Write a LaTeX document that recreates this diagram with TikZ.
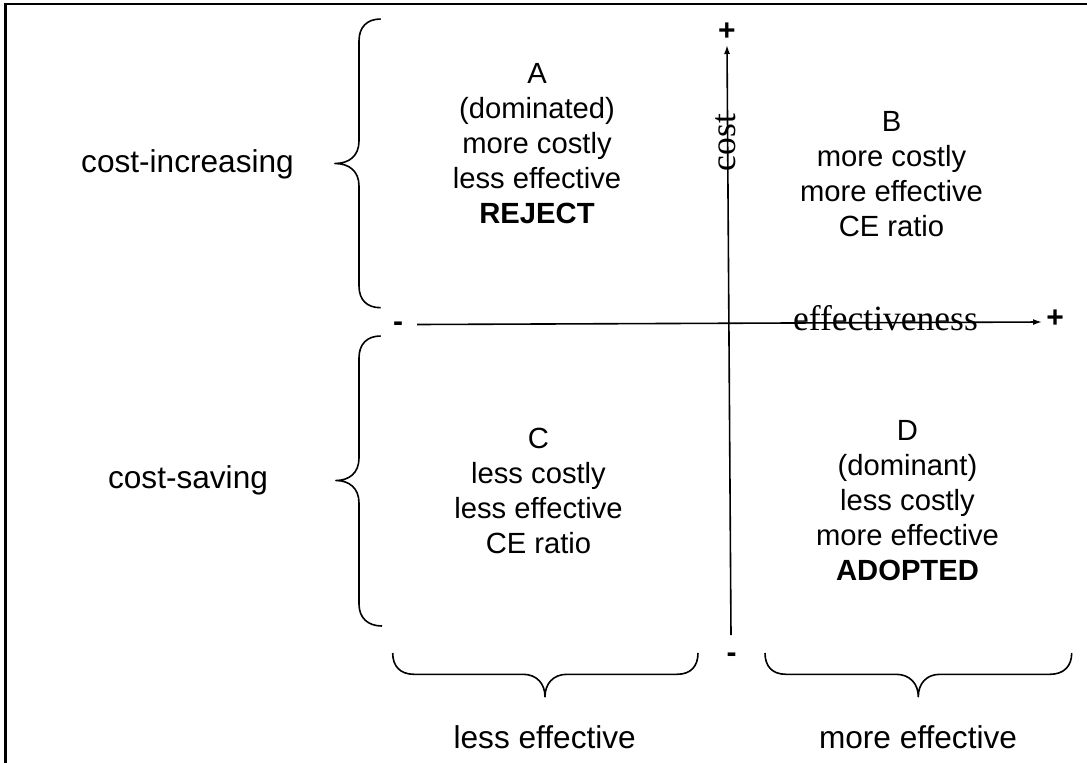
\documentclass[tikz,border=0pt]{standalone}
\usepackage{fontspec}
\setsansfont{Liberation Sans}
\newfontfamily\axisface{Liberation Serif}
\usetikzlibrary{arrows.meta}

\tikzset{
  frameline/.style={line width=2.7pt},
  axisline/.style={line width=1.6pt, -{Latex[length=9pt,width=6pt]}},
  braceline/.style={line width=1.6pt, line join=round},
  % multi-line quadrant text: the base anchor sits on the last line
  quadtext/.style={font=\sffamily\fontsize{29.2}{35}\selectfont, align=center, inner sep=0pt, anchor=base},
  sidelabel/.style={font=\sffamily\fontsize{31.6}{38}\selectfont, inner sep=0pt, anchor=base},
  axislabel/.style={font=\axisface\fontsize{35.5}{42}\selectfont, inner sep=0pt, anchor=base},
  signmark/.style={font=\sffamily\bfseries\fontsize{30}{36}\selectfont, inner sep=0pt, anchor=center}
}

\begin{document}
\begin{tikzpicture}[x=1pt, y=-1pt]
\useasboundingbox (0,0) rectangle (1087,763);

% outer frame (top and left edges)
\draw[frameline] (5.3,763) -- (5.3,4) -- (1087,4);

% axes
\coordinate (costlow) at (731,635);
\coordinate (costhigh) at (727,45);
\coordinate (efflow) at (417,324.5);
\coordinate (effhigh) at (1042,322);
\draw[axisline] (costlow) -- (costhigh);
\draw[axisline] (efflow) -- (effhigh);

% axis labels and signs
\node[axislabel, rotate=90] (costlab) at (735,142.5) {cost};
\node[axislabel] (efflab) at (885.5,330) {effectiveness};
\node[signmark] (costplus) at (727,31.7) {+};
\node[signmark] (costminus) at (731.7,657.5) {-};
\node[signmark] (effplus) at (1055,319) {+};
\node[signmark] (effminus) at (398,327) {-};

% left braces
\draw[braceline] (380.7,19) .. controls (367,19) and (359,27) .. (359,41)
  -- (359,141) .. controls (359,156) and (349,163.5) .. (335,163.5)
  .. controls (349,163.5) and (359,171) .. (359,186)
  -- (359,286) .. controls (359,300) and (367,307.7) .. (380.7,307.7);
\draw[braceline] (380.7,336) .. controls (367,336) and (359,344) .. (359,358)
  -- (359,458) .. controls (359,473) and (349,480.5) .. (336,480.5)
  .. controls (349,480.5) and (359,488) .. (359,503)
  -- (359,604) .. controls (359,618) and (368,626) .. (382,626);

% bottom braces
\draw[braceline] (392.7,653) .. controls (392.7,666) and (400,674.3) .. (414,674.3)
  -- (523,674.3) .. controls (537,674.3) and (545,684) .. (545,696.7)
  .. controls (545,684) and (553,674.3) .. (567,674.3)
  -- (677,674.3) .. controls (691,674.3) and (698,666) .. (698,653);
\draw[braceline] (765,653) .. controls (765,666) and (772,674.3) .. (786,674.3)
  -- (896,674.3) .. controls (910,674.3) and (918.3,684) .. (918.3,696.7)
  .. controls (918.3,684) and (926,674.3) .. (940,674.3)
  -- (1050,674.3) .. controls (1064,674.3) and (1071.7,666) .. (1071.7,653);

% side labels
\node[sidelabel] (costinc) at (187.5,172) {cost-increasing};
\node[sidelabel] (costsav) at (188,488) {cost-saving};
\node[sidelabel] (lesseff) at (544.7,748.3) {less effective};
\node[sidelabel] (moreeff) at (918,748.3) {more effective};

% quadrant descriptions (positioned by the baseline of their last line)
\node[quadtext] (quadA) at (537,223.5) {A\\(dominated)\\more costly\\less effective\\\textbf{REJECT}};
\node[quadtext] (quadB) at (891.5,236.7) {B\\more costly\\more effective\\CE ratio};
\node[quadtext] (quadC) at (538.5,553.3) {C\\less costly\\less effective\\CE ratio};
\node[quadtext] (quadD) at (907.5,580.5) {D\\(dominant)\\less costly\\more effective\\\textbf{ADOPTED}};
\end{tikzpicture}
\end{document}
